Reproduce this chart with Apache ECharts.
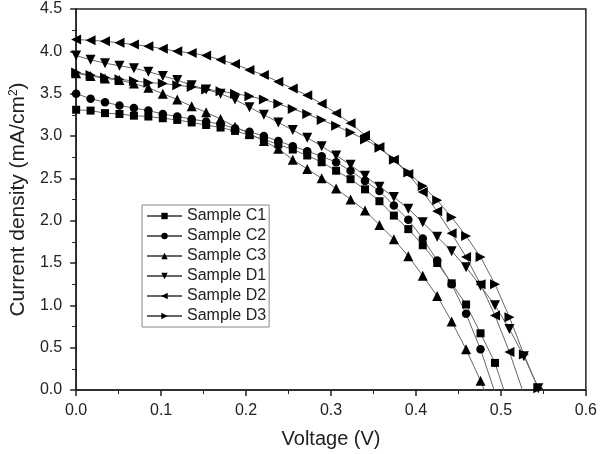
<!DOCTYPE html>
<html>
<head>
<meta charset="utf-8">
<script src="https://cdn.jsdelivr.net/npm/echarts@6/dist/echarts.min.js"></script>
<style>html,body{margin:0;padding:0;background:#fff;}#c{width:600px;height:454px;}</style>
</head>
<body>
<div id="c"></div>
<script>
// Voltage grid (V)
var voltage = [0.000, 0.017, 0.034, 0.051, 0.068, 0.085, 0.102, 0.119, 0.136, 0.153, 0.170,
  0.187, 0.204, 0.221, 0.238, 0.255, 0.272, 0.289, 0.306, 0.323, 0.340,
  0.357, 0.374, 0.391, 0.408, 0.425, 0.442, 0.459, 0.476, 0.493, 0.510, 0.527, 0.544];

// Current density (mA/cm2) per sample
var sampleC1 = [3.31, 3.30, 3.27, 3.26, 3.24, 3.23, 3.21, 3.19, 3.16, 3.13, 3.10,
  3.06, 3.01, 2.96, 2.90, 2.84, 2.77, 2.69, 2.59, 2.49, 2.37,
  2.23, 2.06, 1.90, 1.71, 1.50, 1.26, 1.01, 0.67, 0.32, -0.20];
var sampleC2 = [3.50, 3.44, 3.40, 3.36, 3.33, 3.30, 3.26, 3.23, 3.20, 3.17, 3.14,
  3.09, 3.05, 3.00, 2.94, 2.88, 2.82, 2.76, 2.69, 2.59, 2.47,
  2.35, 2.18, 2.01, 1.79, 1.53, 1.25, 0.90, 0.48, -0.03];
var sampleC3 = [3.74, 3.71, 3.68, 3.66, 3.62, 3.57, 3.50, 3.43, 3.35, 3.28, 3.20,
  3.11, 3.03, 2.94, 2.85, 2.72, 2.61, 2.50, 2.38, 2.25, 2.12,
  1.95, 1.78, 1.58, 1.35, 1.11, 0.81, 0.48, 0.11, -0.32];
var sampleD1 = [3.95, 3.90, 3.86, 3.83, 3.80, 3.76, 3.71, 3.66, 3.60, 3.55, 3.50,
  3.43, 3.34, 3.25, 3.16, 3.07, 2.98, 2.88, 2.77, 2.66, 2.53,
  2.40, 2.28, 2.14, 1.98, 1.81, 1.64, 1.45, 1.23, 1.00, 0.72, 0.40, 0.02];
var sampleD2 = [4.14, 4.13, 4.12, 4.10, 4.08, 4.06, 4.03, 4.00, 3.98, 3.95, 3.90,
  3.85, 3.78, 3.72, 3.64, 3.56, 3.48, 3.38, 3.27, 3.15, 3.01,
  2.87, 2.72, 2.55, 2.34, 2.11, 1.85, 1.57, 1.25, 0.88, 0.45, -0.05];
var sampleD3 = [3.75, 3.72, 3.69, 3.67, 3.65, 3.63, 3.62, 3.60, 3.58, 3.55, 3.53,
  3.50, 3.47, 3.43, 3.38, 3.32, 3.26, 3.19, 3.12, 3.04, 2.96,
  2.86, 2.72, 2.57, 2.41, 2.24, 2.04, 1.82, 1.57, 1.25, 0.86, 0.42, 0.02];

var seriesNames = ['Sample C1', 'Sample C2', 'Sample C3', 'Sample D1', 'Sample D2', 'Sample D3'];
var seriesValues = [sampleC1, sampleC2, sampleC3, sampleD1, sampleD2, sampleD3];
var xTicks = ['0.0', '0.1', '0.2', '0.3', '0.4', '0.5', '0.6'];

var symbols = [
  {symbol: 'rect', size: 8, rotate: 0},
  {symbol: 'circle', size: 8.5, rotate: 0},
  {symbol: 'triangle', size: 10, rotate: 0},
  {symbol: 'triangle', size: 10, rotate: 180},
  {symbol: 'triangle', size: 10, rotate: 90},
  {symbol: 'triangle', size: 10, rotate: -90}
];

var font = 'Liberation Sans, Arial, sans-serif';
var series = seriesNames.map(function (name, k) {
  var vals = seriesValues[k];
  return {
    name: name,
    type: 'line',
    data: vals.map(function (j, i) { return [voltage[i], j]; }),
    symbol: symbols[k].symbol,
    symbolSize: symbols[k].size,
    symbolRotate: symbols[k].rotate,
    showAllSymbol: true,
    clip: true,
    lineStyle: {color: '#666', width: 1},
    itemStyle: {color: '#000'},
    emphasis: {disabled: true},
    animation: false
  };
});

var chart = echarts.init(document.getElementById('c'), null, {renderer: 'canvas'});
chart.setOption({
  backgroundColor: '#fff',
  animation: false,
  grid: {left: 74, right: 14, top: 9, bottom: 63, show: true, borderColor: '#222', borderWidth: 1.5, backgroundColor: 'transparent'},
  legend: {
    orient: 'vertical', left: 142, top: 205,
    itemWidth: 35, itemHeight: 8, itemGap: 4,
    padding: [3, 3, 3, 4],
    borderColor: '#888', borderWidth: 1, backgroundColor: '#fff',
    textStyle: {fontFamily: font, fontSize: 16, color: '#222', lineHeight: 16},
    data: seriesNames
  },
  xAxis: {
    type: 'value', min: 0, max: 0.6, interval: 0.1,
    name: 'Voltage (V)', nameLocation: 'middle', nameGap: 39,
    nameTextStyle: {fontFamily: font, fontSize: 20, color: '#222'},
    axisLine: {lineStyle: {color: '#222', width: 1.5}},
    axisTick: {show: true, inside: false, length: 6, lineStyle: {color: '#222', width: 1.5}},
    minorTick: {show: true, splitNumber: 2, length: 4, lineStyle: {color: '#222', width: 1}},
    splitLine: {show: false},
    axisLabel: {fontFamily: font, fontSize: 16, color: '#222', margin: 13,
      formatter: function (v) { var i = Math.round(v * 10); return xTicks[i]; }}
  },
  yAxis: {
    type: 'value', min: 0, max: 4.5, interval: 0.5,
    name: 'Current density (mA/cm{sup|2})', nameLocation: 'middle', nameGap: 45, nameRotate: 90,
    nameTextStyle: {fontFamily: font, fontSize: 21, color: '#222',
      rich: {sup: {fontFamily: font, fontSize: 12, color: '#222', verticalAlign: 'top', padding: [0, 0, 9, 0]}}},
    axisLine: {show: true, lineStyle: {color: '#222', width: 1.5}},
    axisTick: {show: true, inside: false, length: 6, lineStyle: {color: '#222', width: 1.5}},
    minorTick: {show: true, splitNumber: 2, length: 4, lineStyle: {color: '#222', width: 1}},
    splitLine: {show: false},
    axisLabel: {fontFamily: font, fontSize: 16, color: '#222', margin: 14,
      formatter: function (v) { return v.toFixed(1); }}
  },
  series: series
});
</script>
</body>
</html>
